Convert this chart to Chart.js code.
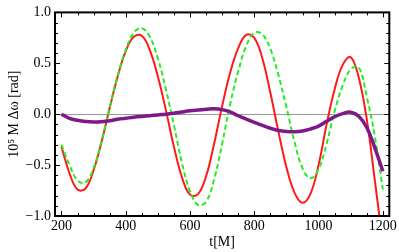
<!DOCTYPE html>
<html>
<head>
<meta charset="utf-8">
<script src="https://cdn.jsdelivr.net/npm/chart.js@4"></script>
<style>
  body { margin: 0; background: #fff; }
  #plot { display: block; }
</style>
</head>
<body>
<canvas id="plot" width="399" height="252"></canvas>
<script>
// time samples in M
const times = [200, 225, 250, 275, 300, 325, 350, 375, 400, 425, 450, 475, 500, 525, 550, 575, 600, 625, 650, 675, 700,
    725, 750, 775, 800, 825, 850, 875, 900, 925, 950, 975, 1000, 1025, 1050, 1075, 1100, 1125, 1150, 1175, 1200];

// red solid
const redVals = [-0.32, -0.58, -0.74, -0.73, -0.55, -0.27, 0.06, 0.37, 0.62, 0.76, 0.77, 0.63, 0.37, 0.04, -0.32, -0.62, -0.79, -0.785, -0.61, -0.29, 0.08,
    0.41, 0.65, 0.78, 0.75, 0.55, 0.21, -0.17, -0.52, -0.77, -0.87, -0.78, -0.50, -0.10, 0.245, 0.485, 0.56, 0.36, -0.05, -0.65, -1.27];

// green dashed
const greenVals = [-0.30, -0.50, -0.65, -0.67, -0.53, -0.26, 0.065, 0.38, 0.63, 0.80, 0.845, 0.76, 0.55, 0.245, -0.11, -0.48, -0.755, -0.89, -0.86, -0.64, -0.29,
    0.10, 0.42, 0.67, 0.80, 0.785, 0.64, 0.385, 0.07, -0.27, -0.53, -0.63, -0.54, -0.29, 0.03, 0.28, 0.44, 0.46, 0.17, -0.22, -0.74];

// purple thick
const purpleVals = [0.0, -0.04, -0.06, -0.072, -0.076, -0.073, -0.065, -0.05, -0.04, -0.03, -0.022, -0.015, -0.007, 0.0, 0.01, 0.022, 0.033, 0.041, 0.048, 0.054, 0.045,
    0.022, -0.015, -0.048, -0.08, -0.11, -0.138, -0.16, -0.17, -0.172, -0.165, -0.145, -0.117, -0.07, -0.025, 0.005, 0.02, -0.02, -0.13, -0.33, -0.56];

const xTicks = [200, 400, 600, 800, 1000, 1200];
const yTicks = [-1.0, -0.5, 0.0, 0.5, 1.0];

const serif = 'Liberation Serif';

function pairs(vals) {
    return times.map((t, i) => ({ x: t, y: vals[i] }));
}

// frame, inward ticks and the zero axis, like a Mathematica Frame plot
const framePlugin = {
    id: 'frame',
    beforeDatasetsDraw(chart) {
        const { ctx, chartArea: a, scales: { y } } = chart;
        const y0 = y.getPixelForValue(0);
        ctx.save();
        ctx.strokeStyle = '#999';
        ctx.lineWidth = 1;
        ctx.beginPath();
        ctx.moveTo(a.left, Math.round(y0) + 0.5);
        ctx.lineTo(a.right, Math.round(y0) + 0.5);
        ctx.stroke();
        ctx.restore();
    },
    afterDraw(chart) {
        const { ctx, chartArea: a, scales: { x, y } } = chart;
        ctx.save();
        ctx.strokeStyle = '#000';
        ctx.lineWidth = 1;
        ctx.beginPath();
        for (let t = 200; t <= 1200; t += 50) {
            const px = Math.round(x.getPixelForValue(t)) + 0.5;
            const len = t % 200 === 0 ? 5 : 3;
            ctx.moveTo(px, a.bottom); ctx.lineTo(px, a.bottom - len);
            ctx.moveTo(px, a.top); ctx.lineTo(px, a.top + len);
        }
        for (let k = -10; k <= 10; k++) {
            const py = Math.round(y.getPixelForValue(k / 10)) + 0.5;
            const len = k % 5 === 0 ? 5 : 3;
            ctx.moveTo(a.left, py); ctx.lineTo(a.left + len, py);
            ctx.moveTo(a.right, py); ctx.lineTo(a.right - len, py);
        }
        ctx.stroke();
        ctx.lineWidth = 2;
        ctx.strokeRect(a.left, a.top, a.right - a.left, a.bottom - a.top);
        ctx.restore();
    }
};

new Chart(document.getElementById('plot'), {
    type: 'line',
    data: {
        datasets: [
            {
                data: pairs(purpleVals),
                borderColor: '#7d1a88',
                borderWidth: 3.5
            },
            {
                data: pairs(greenVals),
                borderColor: '#22ee22',
                borderWidth: 2,
                borderDash: [5, 3]
            },
            {
                data: pairs(redVals),
                borderColor: '#ff1a1a',
                borderWidth: 2
            }
        ]
    },
    options: {
        responsive: false,
        animation: false,
        devicePixelRatio: 1,
        layout: { padding: { top: 6, right: 7, left: 0, bottom: 0 } },
        elements: {
            point: { radius: 0 },
            line: { tension: 0.4, fill: false }
        },
        plugins: {
            legend: { display: false },
            tooltip: { enabled: false }
        },
        scales: {
            x: {
                type: 'linear',
                min: 180,
                max: 1220,
                afterBuildTicks: s => { s.ticks = xTicks.map(v => ({ value: v })); },
                afterFit: s => { s.height = 36; },
                grid: { display: false, drawTicks: false },
                border: { display: false },
                ticks: {
                    padding: 2,
                    color: '#000',
                    maxRotation: 0,
                    font: { family: serif, size: 14 },
                    callback: v => String(v)
                },
                title: {
                    display: true,
                    text: 't[M]',
                    color: '#000',
                    font: { family: serif, size: 14 },
                    padding: { top: 0, bottom: 1 }
                }
            },
            y: {
                min: -1,
                max: 1,
                afterBuildTicks: s => { s.ticks = yTicks.map(v => ({ value: v })); },
                afterFit: s => { s.width = 55; },
                grid: { display: false, drawTicks: false },
                border: { display: false },
                ticks: {
                    padding: 4,
                    color: '#000',
                    font: { family: serif, size: 14 },
                    callback: v => (v < 0 ? '\u2212' : '') + Math.abs(v).toFixed(1)
                },
                title: {
                    display: true,
                    text: '10\u2075 M \u0394\u03c9 [rad]',
                    color: '#000',
                    font: { family: serif, size: 14 },
                    padding: { top: 6, bottom: 0 }
                }
            }
        }
    },
    plugins: [framePlugin]
});
</script>
</body>
</html>
